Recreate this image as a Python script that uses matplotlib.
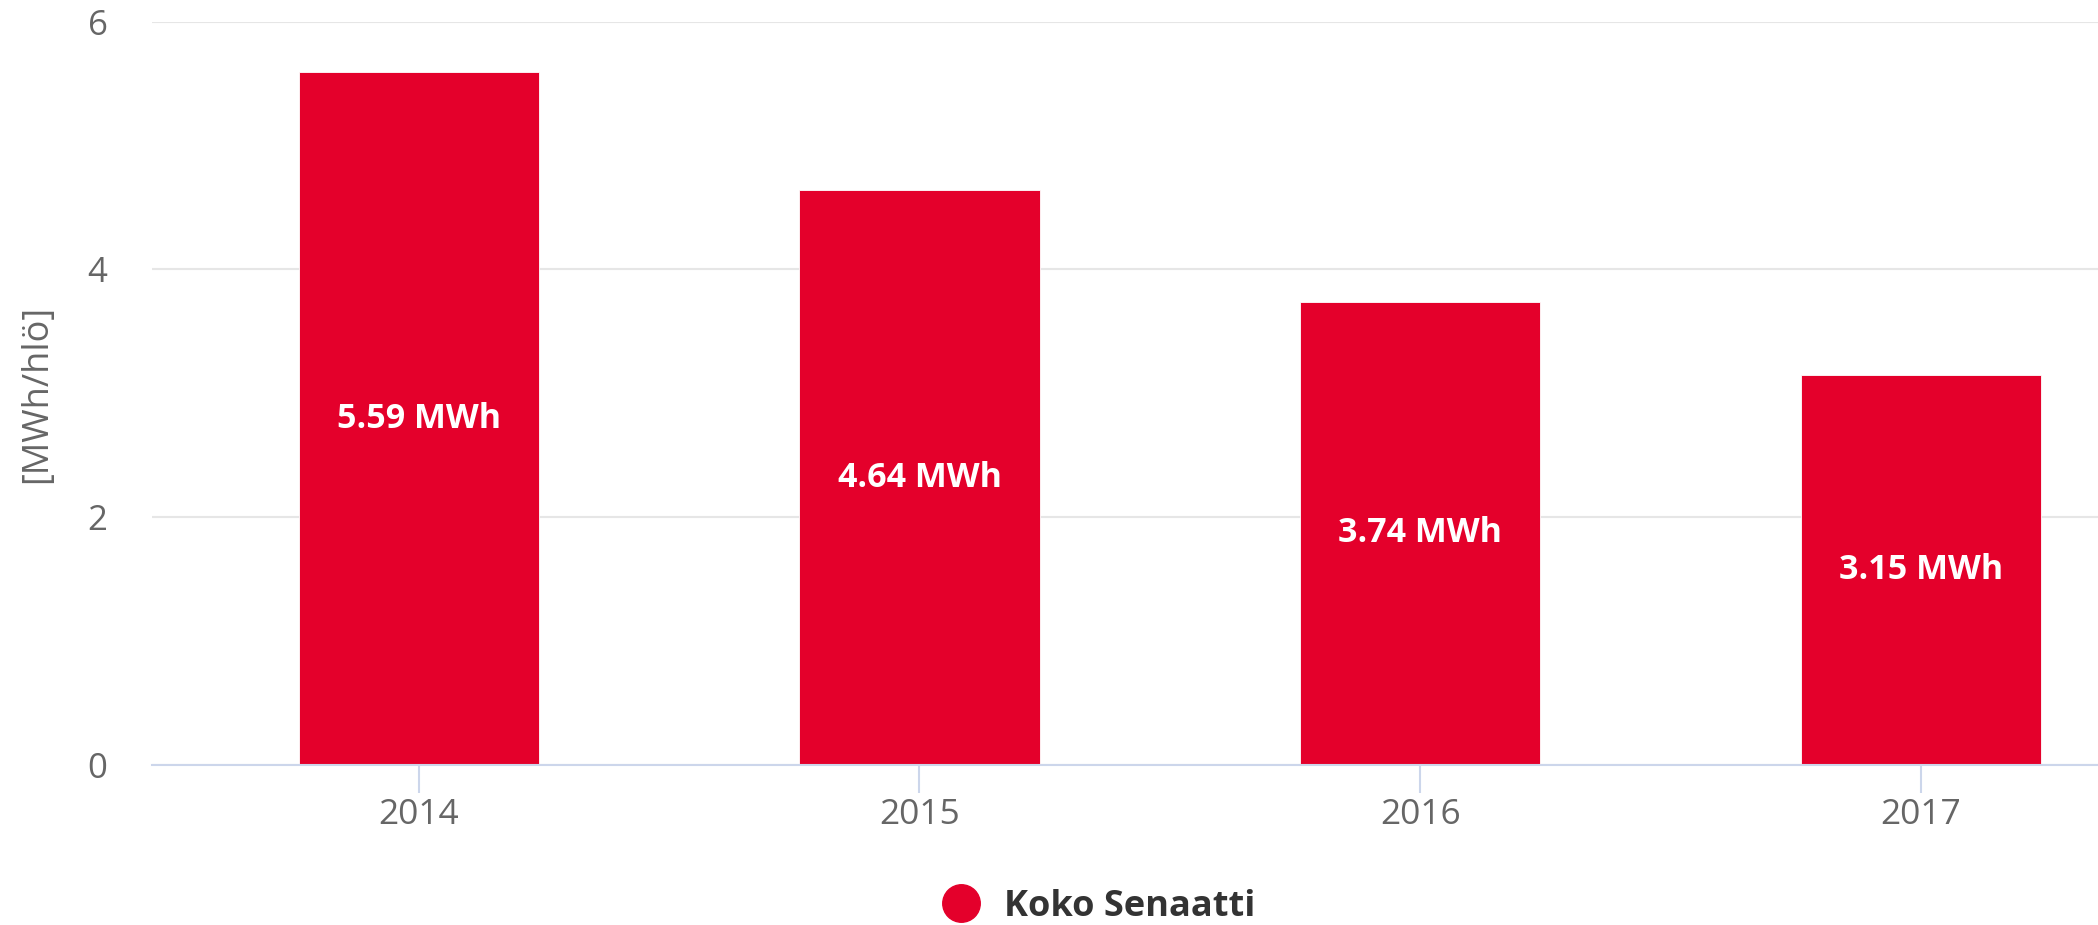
import matplotlib.pyplot as plt
from matplotlib.lines import Line2D

years = ['2014', '2015', '2016', '2017']
values = [5.59, 4.64, 3.74, 3.15]
labels = ['5.59 MWh', '4.64 MWh', '3.74 MWh', '3.15 MWh']
series_name = 'Koko Senaatti'
y_ticks = [0, 2, 4, 6]

W, H = 2098, 925
bar_color = '#e4002b'

plt.rcParams['font.family'] = ['Open Sans', 'DejaVu Sans']

fig = plt.figure(figsize=(W / 100, H / 100), dpi=100)
left, right, top, bottom = 152, 2098, 21.7, 765
ax = fig.add_axes([left / W, 1 - bottom / H, (right - left) / W, (bottom - top) / H])

x = list(range(len(years)))
ax.bar(x, values, width=0.48, color=bar_color, edgecolor='white', linewidth=0.6, zorder=3)

for xi, v, lab in zip(x, values, labels):
    ax.text(xi, v / 2, lab, ha='center', va='center', color='white',
            fontsize=24.5, fontweight='bold', zorder=4)

ax.set_xlim(-0.533, 3.354)
ax.set_ylim(0, 6)
ax.set_yticks(y_ticks)
ax.set_xticks(x)
ax.set_xticklabels(years)

for s in ['top', 'right', 'left']:
    ax.spines[s].set_visible(False)
ax.spines['bottom'].set_color('#ccd6eb')
ax.spines['bottom'].set_linewidth(1.5)
ax.spines['bottom'].set_zorder(5)

ax.grid(axis='y', color='#e6e6e6', linewidth=1.5, zorder=0)
ax.tick_params(axis='y', length=0, pad=32, labelsize=25, labelcolor='#666666')
ax.tick_params(axis='x', length=20, width=1.5, color='#ccd6eb', pad=4,
               labelsize=25.5, labelcolor='#666666')

ax.set_ylabel('[MWh/hlö]', fontsize=26, color='#666666')
ax.yaxis.set_label_coords(-(left - 55) / (right - left), 0.5 - (394 - (top + bottom) / 2) / (bottom - top))

handle = Line2D([], [], linestyle='none', marker='o', markersize=27,
                markerfacecolor=bar_color, markeredgecolor=bar_color)
fig.legend([handle], [series_name], loc='center', bbox_to_anchor=(1090 / W, 1 - 907 / H),
           frameon=False, prop={'size': 26, 'weight': 'bold'}, labelcolor='#333333',
           handletextpad=0.2, borderaxespad=0)

fig.savefig('out.png', dpi=100)
